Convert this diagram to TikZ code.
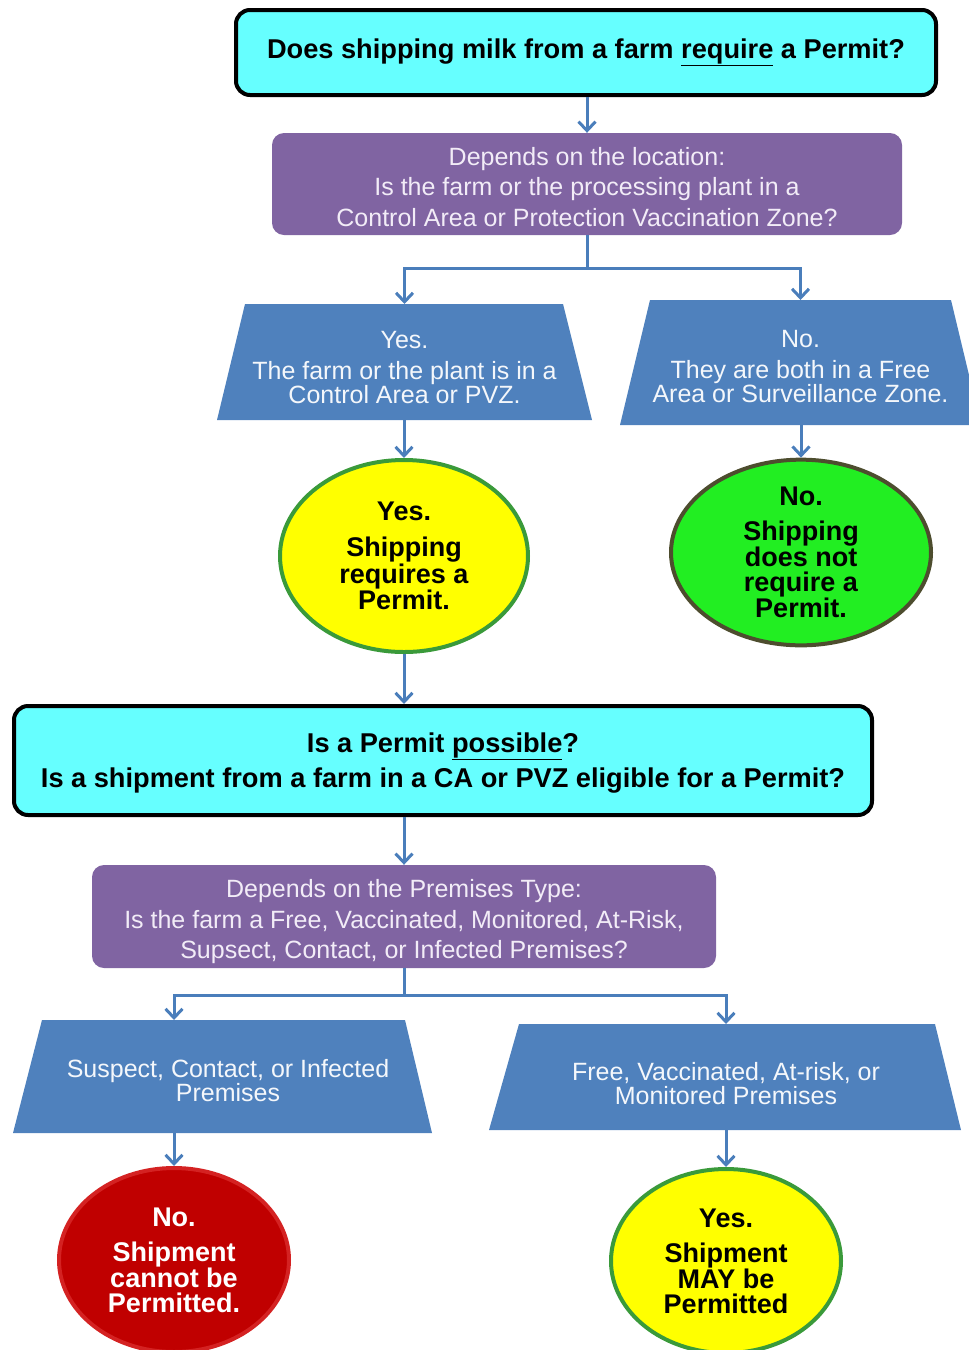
\documentclass[tikz,border=0pt]{standalone}
\usepackage{fontspec}
\setmainfont{Liberation Sans}
\usetikzlibrary{arrows.meta,shapes.geometric}
\definecolor{cyanfill}{HTML}{66FFFF}
\definecolor{purplefill}{HTML}{8064A2}
\definecolor{purpletext}{HTML}{F2ECF7}
\definecolor{trapblue}{HTML}{4F81BD}
\definecolor{traptext}{HTML}{F4F7FB}
\definecolor{arrowblue}{HTML}{4A7EBB}
\definecolor{yellowfill}{HTML}{FFFF00}
\definecolor{yellowborder}{HTML}{3A9A3A}
\definecolor{greenfill}{HTML}{22EE22}
\definecolor{greenborder}{HTML}{4D4D2E}
\definecolor{redfill}{HTML}{C00000}
\definecolor{redborder}{HTML}{D42222}
\newcommand\qfont{\fontsize{27.2}{35}\selectfont\bfseries}
\newcommand\rfont{\fontsize{25}{30.5}\selectfont}
\newcommand\tfont{\fontsize{25}{24}\selectfont}
\newcommand\efont{\fontsize{27}{25}\selectfont\bfseries}
\begin{document}
\begin{tikzpicture}[x=1pt,y=-1pt,
  question/.style={draw=black, line width=4pt, fill=cyanfill, rounded corners=14pt,
    inner sep=0pt, align=center, font=\qfont, text=black},
  depends/.style={fill=purplefill, rounded corners=12pt, inner sep=0pt},
  dtext/.style={align=center, font=\rfont, text=purpletext, inner sep=0pt},
  answer/.style={inner sep=0pt, outer sep=0pt},
  atext/.style={align=center, font=\tfont, text=traptext, inner sep=0pt},
  trapshape/.style={fill=trapblue},
  result/.style={ellipse, line width=4pt, inner sep=0pt, align=center, font=\efont},
  arr/.style={draw=arrowblue, line width=3pt, -{Straight Barb[length=9pt,width=17pt]}},
  link/.style={draw=arrowblue, line width=3pt}]
\useasboundingbox (0,0) rectangle (969,1350);

% trapezoid shapes
\fill[trapshape] (245,304) -- (563,304) -- (592,420) -- (217,420) -- cycle;
\fill[trapshape] (650,300) -- (951,300) -- (981,425) -- (620,425) -- cycle;
\fill[trapshape] (42,1020) -- (405,1020) -- (432,1133) -- (13,1133) -- cycle;
\fill[trapshape] (519,1024) -- (935,1024) -- (961,1130) -- (489,1130) -- cycle;

\node[question, minimum width=700pt, minimum height=85pt] (top) at (586,52.5)
  {Does shipping milk from a farm \underline{require} a Permit?};
\node[depends, minimum width=630pt, minimum height=102pt,
  label={[dtext, yshift=-3pt]center:{Depends on the location:\\Is the farm or the processing plant in a\\Control Area or Protection Vaccination Zone?}}] (p1) at (587,184) {};
\node[answer, minimum width=375pt, minimum height=116pt,
  label={[atext, yshift=-5.5pt]center:{Yes.\\[7pt]The farm or the plant is in a\\Control Area or PVZ.}}] (tL1) at (404.5,362) {};
\node[answer, minimum width=361pt, minimum height=125pt,
  label={[atext, yshift=-4pt]center:{No.\\[7pt]They are both in a Free\\Area or Surveillance Zone.}}] (tR1) at (800.5,362.5) {};
\node[result, fill=yellowfill, draw=yellowborder, minimum width=248pt, minimum height=192pt] (y1) at (404,556)
  {Yes.\\[11pt]Shipping\\requires a\\Permit.};
\node[result, fill=greenfill, draw=greenborder, minimum width=260pt, minimum height=176pt] (g1) at (801,552.5)
  {No.\\[10pt]Shipping\\does not\\require a\\Permit.};
\node[question, minimum width=858pt, minimum height=109pt] (c2) at (443,760.5)
  {\rule{0pt}{24pt}Is a Permit \underline{possible}?\\Is a shipment from a farm in a CA or PVZ eligible for a Permit?};
\node[depends, minimum width=624pt, minimum height=103pt,
  label={[dtext, yshift=-5.5pt]center:{Depends on the Premises Type:\\Is the farm a Free, Vaccinated, Monitored, At-Risk,\\Supsect, Contact, or Infected Premises?}}] (p2) at (404,916.5) {};
\node[answer, minimum width=419pt, minimum height=113pt,
  label={[atext, yshift=-4.5pt, xshift=5.5pt]center:{Suspect, Contact, or Infected\\Premises}}] (tL2) at (222.5,1076.5) {};
\node[answer, minimum width=472pt, minimum height=106pt,
  label={[atext, yshift=-6.5pt, xshift=1pt]center:{Free, Vaccinated, At-risk, or\\Monitored Premises}}] (tR2) at (725,1077) {};
\node[result, fill=redfill, draw=redborder, text=white, minimum width=230pt, minimum height=184pt] (r2) at (174,1260)
  {No.\\[10pt]Shipment\\cannot be\\Permitted.};
\node[result, fill=yellowfill, draw=yellowborder, minimum width=230pt, minimum height=184pt] (y2) at (726,1261)
  {Yes.\\[10pt]Shipment\\MAY be\\Permitted};

\coordinate (s1) at (587,268);
\coordinate (s2) at (404,995);

\draw[arr] (top.south -| p1.north) -- (p1.north);
\draw[link] (p1.south) -- (s1);
\draw[arr] (s1) -| (tL1.north);
\draw[arr] (s1) -| (tR1.north);
\draw[arr] (tL1.south -| y1.north) -- (y1.north);
\draw[arr] (tR1.south -| g1.north) -- (g1.north);
\draw[arr] (y1.south) -- (c2.north -| y1.south);
\draw[arr] (c2.south -| p2.north) -- (p2.north);
\draw[link] (p2.south) -- (s2);
\draw[arr] (s2) -| (tL2.north -| r2.north);
\draw[arr] (s2) -| (tR2.north -| y2.north);
\draw[arr] (tL2.south -| r2.north) -- (r2.north);
\draw[arr] (tR2.south -| y2.north) -- (y2.north);
\end{tikzpicture}
\end{document}
